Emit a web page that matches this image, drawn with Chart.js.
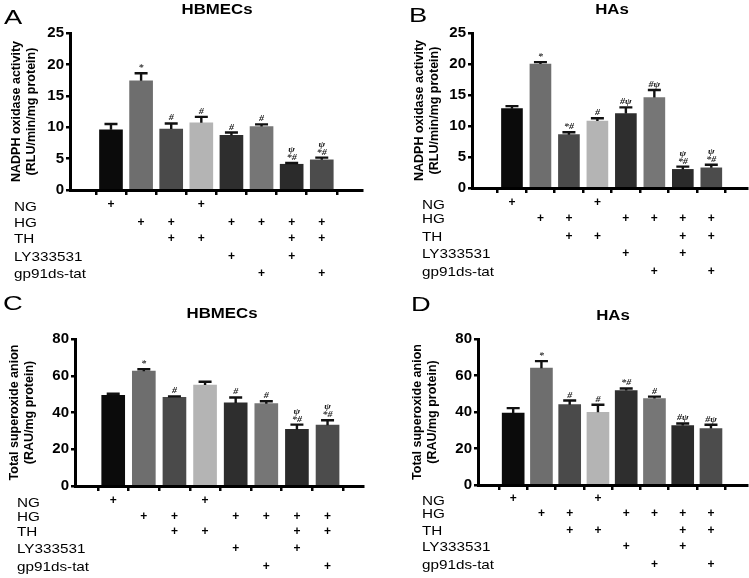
<!DOCTYPE html>
<html><head><meta charset="utf-8">
<script src="https://cdn.jsdelivr.net/npm/chart.js@4.4.1/dist/chart.umd.min.js"></script>
<style>
html,body{margin:0;padding:0;background:#fff}
body{width:749px;height:578px;position:relative;overflow:hidden}
canvas{position:absolute}
</style></head>
<body>
<canvas id="cA" width="374" height="289" style="left:0;top:0"></canvas>
<canvas id="cB" width="374" height="289" style="left:375px;top:0"></canvas>
<canvas id="cC" width="374" height="289" style="left:0;top:289px"></canvas>
<canvas id="cD" width="374" height="289" style="left:375px;top:289px"></canvas>
<script>
// ---------- data ----------
const conditions = ['NG','HG','HG+TH','NG+TH','HG+LY333531','HG+gp91ds-tat','HG+TH+LY333531','HG+TH+gp91ds-tat'];
const treatmentLabels = ['NG','HG','TH','LY333531','gp91ds-tat'];
const ngRow = [1,0,0,1,0,0,0,0];
const hgRow = [0,1,1,0,1,1,1,1];
const thRow = [0,0,1,1,0,0,1,1];
const lyRow = [0,0,0,0,1,0,1,0];
const gpRow = [0,0,0,0,0,1,0,1];

const yTicksNadph = [0,5,10,15,20,25];
const yTicksSuperoxide = [0,20,40,60,80];

const nadphHBMEC = [9.6,17.4,9.7,10.7,8.7,10.1,4.1,4.8];
const nadphHBMECSem = [0.9,1.2,0.9,0.95,0.45,0.35,0.2,0.35];
const nadphHBMECMarks = ['','*','#','#','#','#','\u03c8\n*#','\u03c8\n*#'];

const nadphHAs = [12.8,20.0,8.6,10.8,12.0,14.6,3.0,3.25];
const nadphHAsSem = [0.4,0.3,0.4,0.45,1.0,1.2,0.45,0.5];
const nadphHAsMarks = ['','*','*#','#','#\u03c8','#\u03c8','\u03c8\n*#','\u03c8\n*#'];

const superHBMEC = [49.3,62.5,48.2,54.9,45.2,44.8,30.8,33.1];
const superHBMECSem = [0.9,1.0,0.6,1.8,3.0,1.3,2.6,2.7];
const superHBMECMarks = ['','*','#','','#','#','\u03c8\n*#','\u03c8\n*#'];

const superHAs = [39.4,64.0,44.0,39.8,51.8,47.4,32.6,30.9];
const superHAsSem = [2.7,3.9,2.3,4.2,1.1,1.0,1.1,2.1];
const superHAsMarks = ['','*','#','#','*#','#','#\u03c8','#\u03c8'];

// ---------- style ----------
const barColors = ['#0b0b0b','#6e6e6e','#4a4a4a','#b4b4b4','#2e2e2e','#767676','#2b2b2b','#4c4c4c'];
const SANS = '"Liberation Sans", Arial, sans-serif';
const SERIF = '"Liberation Serif", "DejaVu Serif", serif';
const treatmentRows = [ngRow,hgRow,thRow,lyRow,gpRow];

function stretchText(ctx, text, x, y, sx, align) {
  ctx.save();
  ctx.translate(x, y);
  ctx.scale(sx, 1);
  ctx.textAlign = align || 'left';
  ctx.fillText(text, 0, 0);
  ctx.restore();
}

function makePanel(id, cfg) {
  const idx = conditions.map((c,i)=>i);
  const decor = {
    id: 'decor',
    afterDraw(chart) {
      const ctx = chart.ctx;
      const xs = chart.scales.x, ys = chart.scales.y;
      ctx.save();
      // error bars
      ctx.strokeStyle = '#111';
      ctx.lineWidth = 2.4;
      cfg.values.forEach((v,i)=>{
        const x = xs.getPixelForValue(i);
        const y0 = ys.getPixelForValue(v);
        const y1 = ys.getPixelForValue(v + cfg.sem[i]);
        ctx.beginPath();
        ctx.moveTo(x, y0); ctx.lineTo(x, y1);
        ctx.moveTo(x-6.5, y1); ctx.lineTo(x+6.5, y1);
        ctx.stroke();
        // significance marks
        const lines = cfg.marks[i] ? cfg.marks[i].split('\n') : [];
        ctx.fillStyle = '#222';
        ctx.font = 'italic bold 9px ' + SERIF;
        ctx.textBaseline = 'alphabetic';
        lines.slice().reverse().forEach((t,k)=>{
          stretchText(ctx, t, x, y1 - 3 - k*8, 1.1, 'center');
        });
      });
      // treatment table
      ctx.fillStyle = '#000';
      ctx.textBaseline = 'middle';
      treatmentLabels.forEach((lab,r)=>{
        ctx.font = '13.5px ' + SANS;
        stretchText(ctx, lab, cfg.labelX, cfg.rowY[r], 1.13, 'left');
        ctx.font = 'bold 12px ' + SANS;
        treatmentRows[r].forEach((on,i)=>{
          if (on) stretchText(ctx, '+', xs.getPixelForValue(i), cfg.rowY[r] - (r===0?2:0), 1, 'center');
        });
      });
      // panel letter and title
      ctx.font = '21px ' + SANS;
      ctx.textBaseline = 'middle';
      stretchText(ctx, cfg.letter, cfg.letterX, cfg.letterY, 1.3, 'left');
      ctx.font = 'bold 14px ' + SANS;
      stretchText(ctx, cfg.title, cfg.titleX, cfg.titleY, 1.2, 'center');
      ctx.restore();
    }
  };
  return new Chart(document.getElementById(id), {
    type: 'bar',
    data: {
      datasets: [{
        data: cfg.values.map((v,i)=>({x:i, y:v})),
        backgroundColor: barColors,
        borderWidth: 0,
        barThickness: cfg.barW
      }]
    },
    options: {
      responsive: false,
      animation: false,
      events: [],
      layout: {padding: {top: cfg.top, right: cfg.right, left: 0, bottom: 0}},
      plugins: {legend: {display:false}, tooltip: {enabled:false}},
      scales: {
        x: {
          type: 'linear', min: cfg.xmin, max: cfg.xmax, z: 1,
          afterBuildTicks: s => { s.ticks = idx.map(v=>({value:v})); },
          afterFit: s => { s.height = cfg.xh; },
          grid: {display:true, drawOnChartArea:false, drawTicks:true, tickLength:5, color:'#000', lineWidth:2.5},
          border: {display:true, color:'#000', width:3},
          ticks: {display:false}
        },
        y: {
          min: 0, max: cfg.yTicks[cfg.yTicks.length-1], z: 1,
          afterBuildTicks: s => { s.ticks = cfg.yTicks.map(v=>({value:v})); },
          afterFit: s => { s.width = cfg.left; },
          grid: {display:true, drawOnChartArea:false, drawTicks:true, tickLength:4, color:'#000', lineWidth:2.5},
          border: {display:true, color:'#000', width:3},
          ticks: {color:'#000', padding:2, font:{family:SANS, size:15, weight:'bold'}},
          title: {display:true, text: cfg.yTitle, color:'#000',
                  font:{family:SANS, size:12.5, weight:'bold', lineHeight:1.2},
                  padding:{top: cfg.titlePad, bottom:0}}
        }
      }
    },
    plugins: [decor]
  });
}

makePanel('cA', {
  values: nadphHBMEC, sem: nadphHBMECSem, marks: nadphHBMECMarks, yTicks: yTicksNadph,
  yTitle: ['NADPH oxidase activity','(RLU/min/mg protein)'],
  letter: 'A', title: 'HBMECs',
  top: 33, right: 12, left: 70, xh: 99, xmin: -0.755, xmax: 7.73, barW: 23,
  titlePad: 9.5, labelX: 14, rowY: [207,223,239,257,274],
  letterX: 4, letterY: 18, titleX: 217, titleY: 10
});
makePanel('cB', {
  values: nadphHAs, sem: nadphHAsSem, marks: nadphHAsMarks, yTicks: yTicksNadph,
  yTitle: ['NADPH oxidase activity','(RLU/min/mg protein)'],
  letter: 'B', title: 'HAs',
  top: 33, right: 2, left: 97, xh: 101, xmin: -0.8, xmax: 7.65, barW: 21,
  titlePad: 37.5, labelX: 47, rowY: [205,219,237,254,272],
  letterX: 34, letterY: 16, titleX: 237, titleY: 10
});
makePanel('cC', {
  values: superHBMEC, sem: superHBMECSem, marks: superHBMECMarks, yTicks: yTicksSuperoxide,
  yTitle: ['Total superoxide anion','(RAU/mg protein)'],
  letter: 'C', title: 'HBMECs',
  top: 50, right: 11, left: 75, xh: 92, xmin: -0.66, xmax: 7.57, barW: 23,
  titlePad: 7.5, labelX: 17, rowY: [214,228,243,260,278],
  letterX: 3, letterY: 15, titleX: 222, titleY: 25
});
makePanel('cD', {
  values: superHAs, sem: superHAsSem, marks: superHAsMarks, yTicks: yTicksSuperoxide,
  yTitle: ['Total superoxide anion','(RAU/mg protein)'],
  letter: 'D', title: 'HAs',
  top: 50, right: 2, left: 103, xh: 93, xmin: -0.65, xmax: 7.68, barW: 22,
  titlePad: 35.5, labelX: 47, rowY: [212,225,242,258,276],
  letterX: 36, letterY: 16, titleX: 238, titleY: 27
});
</script>
</body></html>
